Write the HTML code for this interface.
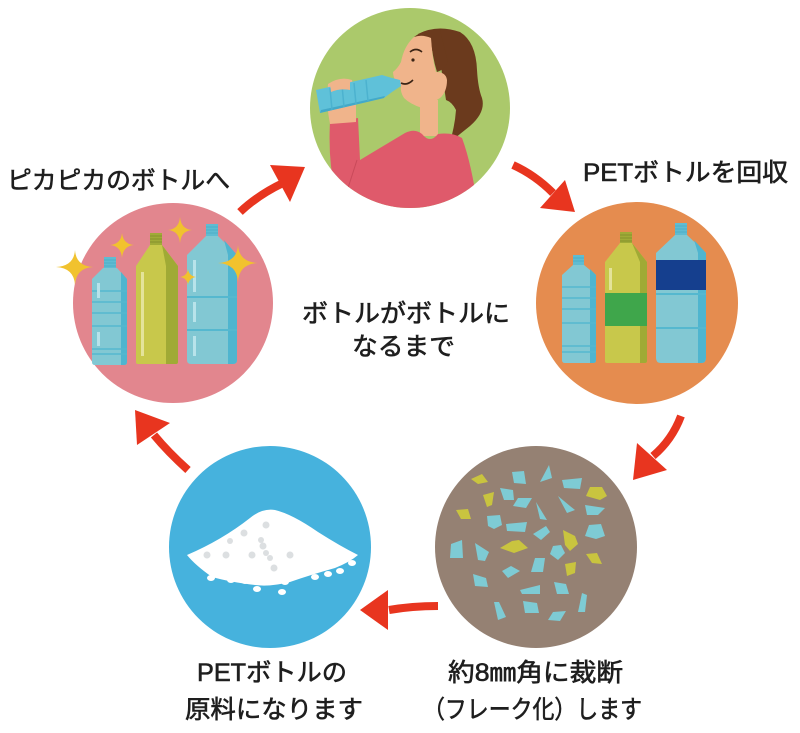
<!DOCTYPE html>
<html><head><meta charset="utf-8"><style>
html,body{margin:0;padding:0;background:#fff;}
svg{display:block;}
text{font-family:"Liberation Sans","Noto Sans CJK JP",sans-serif;font-size:25px;fill:#1e1e1e;font-weight:normal;stroke:#1e1e1e;stroke-width:0.6px;}
</style></head><body>
<svg width="800" height="733" viewBox="0 0 800 733" xmlns="http://www.w3.org/2000/svg">
<defs>
<clipPath id="cg"><circle cx="410" cy="108" r="100"/></clipPath>
</defs>
<!-- circles -->
<circle cx="410" cy="108" r="100" fill="#abc96b"/>
<circle cx="637" cy="303" r="101" fill="#e58c4f"/>
<circle cx="536" cy="547" r="101" fill="#958173"/>
<circle cx="270" cy="547" r="101" fill="#46b2dd"/>
<circle cx="173" cy="303" r="100" fill="#e2868e"/>

<!-- woman -->
<g clip-path="url(#cg)">
  <path d="M418 34 Q437 24 460 32 Q476 42 477 70 Q478 88 482 98 Q486 112 470 126 Q460 134 450 142 Q455 125 456 110 Q452 102 446 100 L440 60 Z" fill="#6b3a1d"/>
  <path d="M420 100 L438 100 L438 136 L420 136 Z" fill="#f0b48b"/>
  <path d="M414 37 Q424 33 432 36 Q431 55 436 72 Q446 72 447 80 Q447 92 440 98 Q430 104 422 108 Q410 104 404 98 Q400 92 401 86 L396 83 Q393 76 393 72 Q398 68 401 62 Q404 46 414 37 Z" fill="#f0b48b"/>
  <path d="M414 37 Q426 28 440 30 L448 62 Q444 70 437 72 Q432 56 431 38 Q422 34 414 37 Z" fill="#6b3a1d"/>
  <path d="M410 52 Q416 47 422 52" stroke="#3b2415" stroke-width="1.6" fill="none"/>
  <circle cx="413" cy="60" r="1.6" fill="#3b2415"/>
  <path d="M401 83 Q407 86 413 80" stroke="#3b2415" stroke-width="1.6" fill="none"/>
  <path d="M330 122 L358 118 L360 160 L405 133 Q415 128 422 134 Q430 144 438 134 Q452 132 462 138 Q472 165 478 210 L345 215 L335 190 Q328 160 330 122 Z" fill="#df5a6b"/>
  <path d="M357 160 L348 188" stroke="#c94a5a" stroke-width="1" fill="none"/>
  <path d="M328 84 Q340 76 352 80 L356 100 L356 122 L330 124 Q326 105 328 84 Z" fill="#f0b48b"/>
  <path d="M316 90 L382 75 L392 78 L400 80 L401 86 L392 92 L384 98 L320 113 Z" fill="#5fc1d9"/>
  <path d="M320 113 L384 98 L385 96 L321 110 Z" fill="#43a9c8"/>
  <path d="M330 88 L332 110 M342 85 L344 107 M354 83 L356 104 M366 80 L368 101" stroke="#4cb2cf" stroke-width="1.5"/>
  <path d="M330 84 Q338 78 350 80 L350 90 Q340 88 331 92 Z" fill="#f0b48b"/>
</g>

<!-- pink circle bottles -->
<g>
  <rect x="104" y="257" width="12" height="11" fill="#5fbcd2"/>
  <path d="M104 260 H116 M104 263 H116 M104 266 H116" stroke="#48a9c2" stroke-width="0.8"/>
  <path d="M103 268 L117 268 L127 279 L127 362 Q127 365 124 365 L95 365 Q92 365 92 362 L92 279 Z" fill="#82c8d3"/>
  <path d="M121 272 L127 279 L127 362 Q127 365 124 365 L121 365 Z" fill="#4fb5cf"/>
  <path d="M92 291 H127 M92 302 H127 M92 313 H127 M92 326 H127 M92 349 H127 M92 354 H127" stroke="#55b8cf" stroke-width="1.5"/>
  <rect x="97" y="283" width="3" height="15" fill="#b8e3ea"/>
  <rect x="97" y="332" width="3" height="14" fill="#b8e3ea"/>
  <rect x="150" y="233" width="12" height="12" fill="#a0ab37"/>
  <path d="M150 236 H162 M150 239 H162 M150 242 H162" stroke="#7d8a2a" stroke-width="0.8"/>
  <path d="M150 245 L162 245 L178 266 L178 362 Q178 364 176 364 L138 364 Q136 364 136 362 L136 266 Z" fill="#c8c84b"/>
  <path d="M162 245 L178 266 L178 362 Q178 364 176 364 L166 364 L166 266 Z" fill="#a0aa35"/>
  <rect x="141" y="272" width="3" height="84" fill="#e4e39a"/>
  <rect x="206" y="224" width="12" height="12" fill="#5fbcd2"/>
  <path d="M206 227 H218 M206 230 H218 M206 233 H218" stroke="#48a9c2" stroke-width="0.8"/>
  <path d="M206 236 L218 236 L237 255 L237 360 Q237 364 233 364 L191 364 Q187 364 187 360 L187 255 Z" fill="#82c8d3"/>
  <path d="M224 240 L237 255 L237 360 Q237 364 233 364 L228 364 L228 255 Z" fill="#4fb5cf"/>
  <path d="M187 297 H237 M187 330 H237" stroke="#55b8cf" stroke-width="2"/>
  <rect x="193" y="260" width="3" height="32" fill="#b8e3ea"/>
  <rect x="193" y="302" width="3" height="20" fill="#b8e3ea"/>
  <rect x="193" y="336" width="3" height="20" fill="#b8e3ea"/>
  <g fill="#f1c22e">
    <path d="M75 250 Q76 266 93 267 Q76 268 75 285 Q74 268 56 267 Q74 266 75 250 Z"/>
    <path d="M122 233 Q123 244 134 245 Q123 246 122 258 Q121 246 110 245 Q121 244 122 233 Z"/>
    <path d="M180 217 Q181 229 192 230 Q181 231 180 243 Q179 231 168 230 Q179 229 180 217 Z"/>
    <path d="M238 245 Q239 262 258 263 Q239 264 238 282 Q237 264 218 263 Q237 262 238 245 Z"/>
    <path d="M188 269 Q189 276 196 277 Q189 278 188 285 Q187 278 180 277 Q187 276 188 269 Z"/>
  </g>
</g>

<!-- orange circle bottles -->
<g>
  <rect x="573" y="255" width="11" height="10" fill="#5fbcd2"/>
  <path d="M573 258 H584 M573 261 H584" stroke="#48a9c2" stroke-width="0.8"/>
  <path d="M573 265 L584 265 L596 275 L596 360 Q596 363 593 363 L565 363 Q562 363 562 360 L562 275 Z" fill="#82c8d3"/>
  <path d="M590 269 L596 275 L596 360 Q596 363 593 363 L590 363 Z" fill="#4fb5cf"/>
  <path d="M562 287 H596 M562 298 H596 M562 309 H596 M562 323 H596 M562 346 H596 M562 352 H596" stroke="#55b8cf" stroke-width="1.5"/>
  <rect x="620" y="232" width="12" height="11" fill="#a0ab37"/>
  <path d="M620 235 H632 M620 238 H632 M620 241 H632" stroke="#7d8a2a" stroke-width="0.8"/>
  <path d="M620 243 L632 243 L647 262 L647 361 Q647 363 645 363 L607 363 Q605 363 605 361 L605 262 Z" fill="#c8c84b"/>
  <path d="M632 243 L647 262 L647 361 Q647 363 645 363 L640 363 L640 262 Z" fill="#a0aa35"/>
  <rect x="605" y="293" width="42" height="33" fill="#3fa64b"/>
  <rect x="609" y="268" width="3" height="22" fill="#e4e39a"/>
  <rect x="675" y="223" width="12" height="12" fill="#5fbcd2"/>
  <path d="M675 226 H687 M675 229 H687 M675 232 H687" stroke="#48a9c2" stroke-width="0.8"/>
  <path d="M675 235 L687 235 L706 253 L706 358 Q706 363 701 363 L661 363 Q656 363 656 358 L656 253 Z" fill="#82c8d3"/>
  <path d="M694 240 L706 253 L706 358 Q706 363 701 363 L698 363 L698 253 Z" fill="#4fb5cf"/>
  <rect x="656" y="260" width="50" height="30" fill="#153f8e"/>
  <path d="M656 294 H706 M656 328 H706" stroke="#55b8cf" stroke-width="2"/>
</g>

<!-- flakes -->
<g fill="#7ecbd4">
  <path d="M512 472 L524 471 L526 484 L514 483 Z"/>
  <path d="M549 465 L552 478 L540 482 Z"/>
  <path d="M562 480 L582 478 L580 489 L564 488 Z"/>
  <path d="M500 488 L513 490 L514 500 L504 500 Z"/>
  <path d="M518 498 L532 498 L526 508 L513 506 Z"/>
  <path d="M536 502 L547 520 L540 519 Z"/>
  <path d="M558 496 L570 506 L575 510 L567 513 Z"/>
  <path d="M585 505 L605 508 L598 515 L587 515 Z"/>
  <path d="M487 516 L500 515 L502 525 L494 529 L488 526 Z"/>
  <path d="M506 524 L527 522 L525 532 L507 531 Z"/>
  <path d="M533 534 L546 526 L550 532 L541 540 Z"/>
  <path d="M589 525 L601 524 L605 536 L596 539 L585 536 Z"/>
  <path d="M451 544 L462 540 L463 558 L450 558 Z"/>
  <path d="M475 543 L489 552 L485 561 L478 560 Z"/>
  <path d="M553 546 L561 545 L565 553 L558 560 L550 554 Z"/>
  <path d="M535 558 L545 558 L543 572 L531 572 Z"/>
  <path d="M502 571 L511 566 L520 571 L508 578 Z"/>
  <path d="M473 574 L486 578 L488 587 L475 586 Z"/>
  <path d="M520 590 L540 585 L540 594 L522 594 Z"/>
  <path d="M554 582 L566 584 L569 594 L557 594 Z"/>
  <path d="M582 593 L587 595 L585 612 L578 612 Z"/>
  <path d="M494 602 L499 602 L506 617 L498 620 Z"/>
  <path d="M523 601 L537 603 L539 613 L525 613 Z"/>
  <path d="M553 612 L566 611 L560 621 L548 620 Z"/>
</g>
<g fill="#c9c43f">
  <path d="M471 479 L482 474 L488 482 L478 484 Z"/>
  <path d="M483 495 L494 492 L492 505 L487 507 Z"/>
  <path d="M456 510 L468 509 L471 519 L461 519 Z"/>
  <path d="M590 487 L602 487 L607 496 L600 500 L586 496 Z"/>
  <path d="M512 541 L519 540 L528 548 L514 553 L500 548 Z"/>
  <path d="M563 530 L575 536 L578 544 L570 551 L565 545 Z"/>
  <path d="M586 554 L597 553 L602 564 L592 563 Z"/>
  <path d="M565 564 L576 562 L575 573 L567 576 Z"/>
</g>

<!-- pile -->
<g>
  <path d="M187 555 Q222 540 250 518 Q262 508 275 510 Q292 514 318 532 Q340 546 358 555 Q350 562 335 568 Q310 575 290 582 Q270 587 255 585 Q230 582 212 577 Q195 565 187 555 Z" fill="#fff"/>
  <g fill="#dcdfe1">
    <circle cx="266" cy="525" r="3.5"/><circle cx="244" cy="533" r="3.5"/><circle cx="230" cy="541" r="3"/>
    <circle cx="263" cy="546" r="3.5"/><circle cx="261" cy="540" r="3"/><circle cx="252" cy="555" r="3.5"/>
    <circle cx="207" cy="555" r="3.5"/><circle cx="226" cy="555" r="3.5"/><circle cx="266" cy="553" r="3"/>
    <circle cx="270" cy="558" r="3"/><circle cx="290" cy="555" r="3.5"/><circle cx="274" cy="568" r="3.5"/>
  </g>
  <g fill="#fff">
    <ellipse cx="211" cy="578" rx="4" ry="3"/><ellipse cx="231" cy="580" rx="4" ry="3"/>
    <ellipse cx="245" cy="581" rx="4" ry="3"/><ellipse cx="257" cy="589" rx="4" ry="3"/>
    <ellipse cx="282" cy="592" rx="4" ry="3"/><ellipse cx="285" cy="582" rx="4" ry="3"/>
    <ellipse cx="315" cy="577" rx="4" ry="3"/><ellipse cx="328" cy="574" rx="4" ry="3"/>
    <ellipse cx="340" cy="571" rx="4" ry="3"/><ellipse cx="352" cy="563" rx="4" ry="3"/>
  </g>
</g>

<!-- arrows -->
<g fill="#e8351f" stroke="none">
  <path d="M240 212 Q258 195 283 183" stroke="#e8351f" stroke-width="8" fill="none"/>
  <path d="M270 165 L305 167 L290 202 Z"/>
  <path d="M513 165 Q535 175 553 193" stroke="#e8351f" stroke-width="8" fill="none"/>
  <path d="M540 208 L565 180 L575 212 Z"/>
  <path d="M681 416 Q672 440 653 456" stroke="#e8351f" stroke-width="8" fill="none"/>
  <path d="M637 443 L667 470 L633 480 Z"/>
  <path d="M438 606 Q412 606 389 610" stroke="#e8351f" stroke-width="8" fill="none"/>
  <path d="M388 590 L388 630 L360 610 Z"/>
  <path d="M188 470 Q168 452 154 435" stroke="#e8351f" stroke-width="8" fill="none"/>
  <path d="M135 410 L170 423 L137 445 Z"/>
</g>

<!-- labels -->
<text x="7" y="189" textLength="223" lengthAdjust="spacingAndGlyphs">ピカピカのボトルへ</text>
<text x="583" y="181" textLength="205" lengthAdjust="spacingAndGlyphs">PETボトルを回収</text>
<text x="302" y="322" textLength="208" lengthAdjust="spacingAndGlyphs">ボトルがボトルに</text>
<text x="352" y="355" textLength="103" lengthAdjust="spacingAndGlyphs">なるまで</text>
<text x="197" y="681" textLength="150" lengthAdjust="spacingAndGlyphs">PETボトルの</text>
<text x="185" y="718" textLength="178" lengthAdjust="spacingAndGlyphs">原料になります</text>
<text x="448" y="681" textLength="175" lengthAdjust="spacingAndGlyphs">約8㎜角に裁断</text>
<text x="423" y="718" textLength="219" lengthAdjust="spacingAndGlyphs">（フレーク化）します</text>
</svg>
</body></html>
